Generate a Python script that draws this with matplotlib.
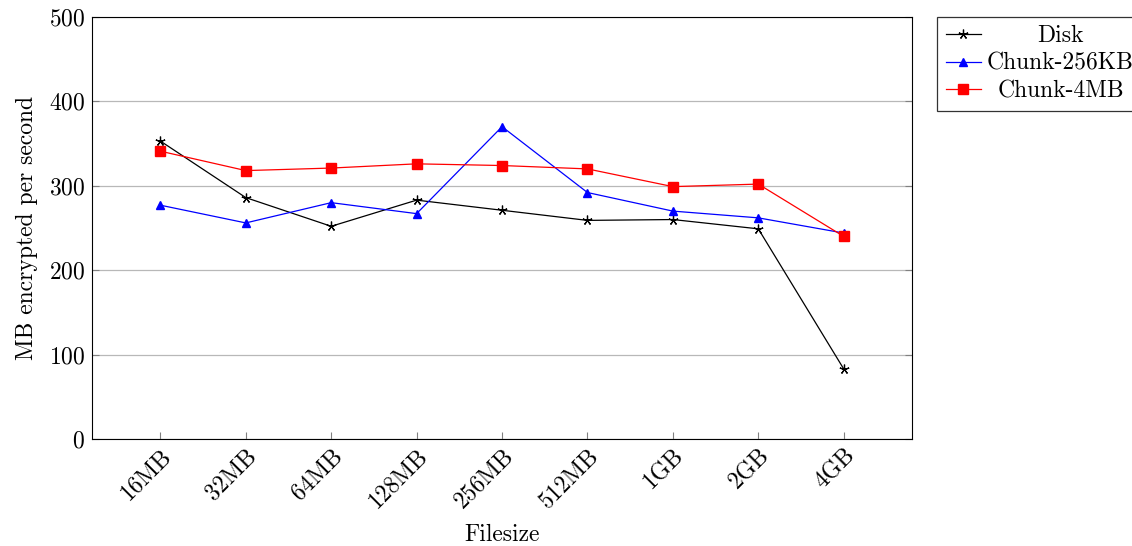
import matplotlib.pyplot as plt
import numpy as np

plt.rcParams["font.family"] = "cmr10"
plt.rcParams["mathtext.fontset"] = "cm"
plt.rcParams["axes.formatter.use_mathtext"] = True

# Throughput per file size
filesizes = ["16MB", "32MB", "64MB", "128MB", "256MB", "512MB", "1GB", "2GB", "4GB"]
disk = [353, 286, 252, 283, 271, 259, 260, 249, 83]
chunk_256kb = [277, 256, 280, 267, 370, 292, 270, 262, 244]
chunk_4mb = [341, 318, 321, 326, 324, 320, 299, 302, 240]

FS = 17
x = np.arange(len(filesizes))

fig = plt.figure(figsize=(11.32, 5.46), dpi=100)
ax = fig.add_axes([0.0813, 0.196, 0.7244, 0.7729])

ax.plot(x, disk, color="black", linewidth=0.9, marker=(5, 2, 0),
        markersize=7, markeredgewidth=0.9, label="Disk")
ax.plot(x, chunk_256kb, color="blue", linewidth=0.9, marker="^",
        markersize=6, label="Chunk-256KB")
ax.plot(x, chunk_4mb, color="red", linewidth=0.9, marker="s",
        markersize=6.5, label="Chunk-4MB")

ax.set_xlim(-0.8, 8.8)
ax.set_ylim(0, 500)
ax.set_xticks(x)
ax.set_xticklabels(filesizes, rotation=45, ha="right", rotation_mode="anchor")
ax.set_yticks([0, 100, 200, 300, 400, 500])
ax.yaxis.grid(True, color="#b8b8b8", linewidth=0.9)
ax.set_axisbelow(True)
ax.tick_params(direction="in", labelsize=FS, length=5, right=True, top=False,
               color="#808080")
ax.tick_params(axis="x", pad=4)
ax.tick_params(axis="y", pad=5)

ax.set_xlabel("Filesize", fontsize=FS, labelpad=8)
ax.set_ylabel("MB encrypted per second", fontsize=FS, labelpad=8)

leg = ax.legend(loc="upper left", bbox_to_anchor=(1.031, 1.0), fontsize=FS,
                frameon=True, fancybox=False, edgecolor="black",
                borderaxespad=0, handlelength=1.5, borderpad=0.35,
                labelspacing=0.23, handletextpad=0.25)
leg.get_frame().set_linewidth(0.9)

# centre the legend entries within their column
fig.canvas.draw()
renderer = fig.canvas.get_renderer()
texts = leg.get_texts()
widths = [t.get_window_extent(renderer).width for t in texts]
for t, w in zip(texts, widths):
    t.set_x((max(widths) - w) / 2)

fig.savefig("out.png", dpi=100)
